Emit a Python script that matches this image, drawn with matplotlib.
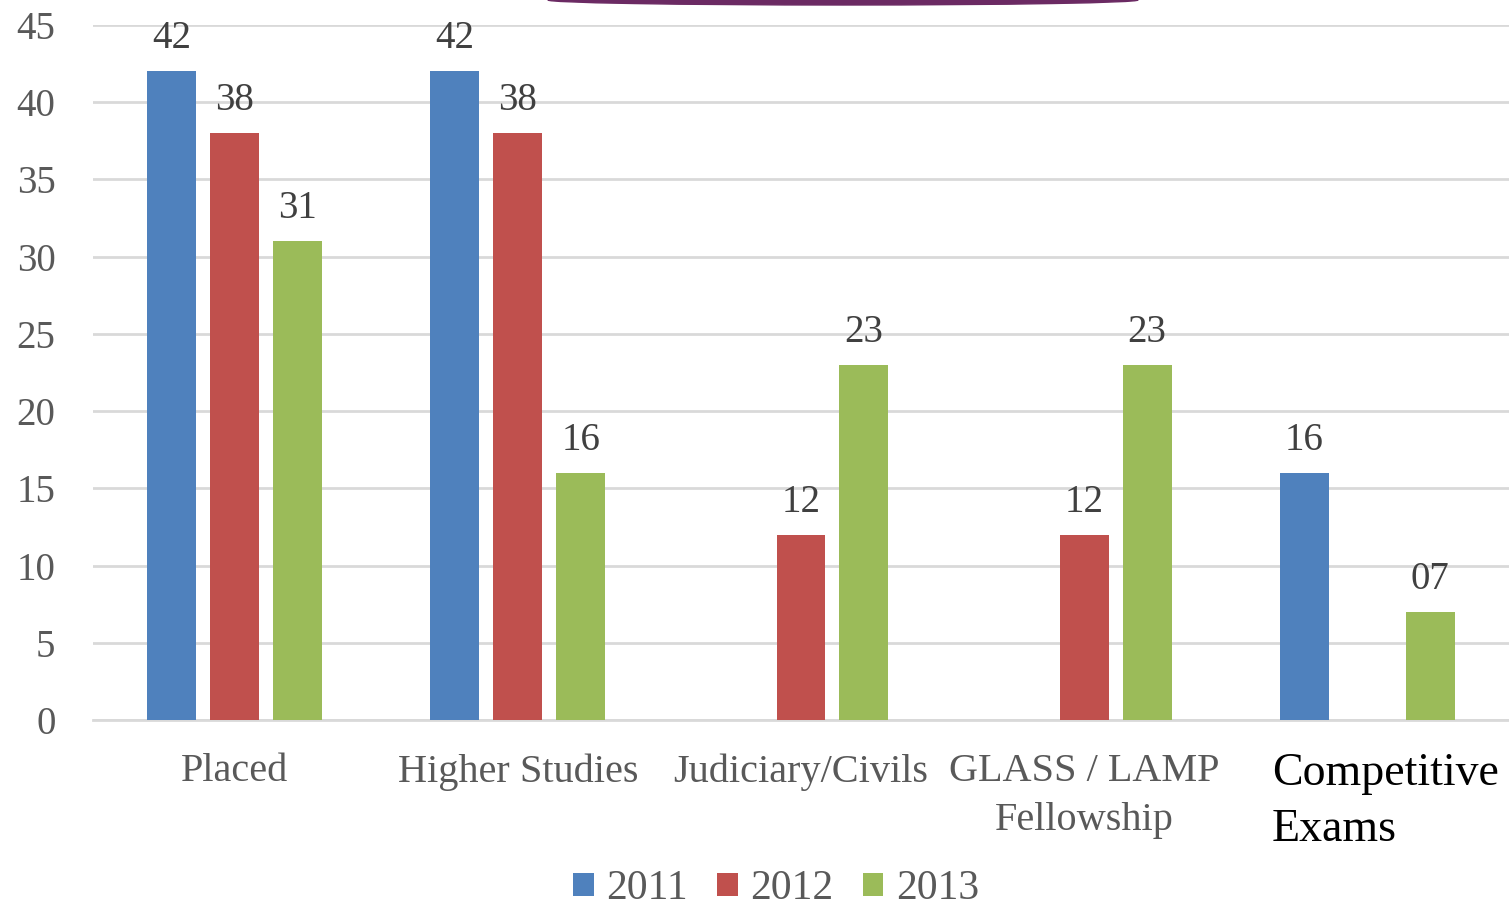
import matplotlib
matplotlib.use("Agg")
import matplotlib.pyplot as plt
import numpy as np
from matplotlib.patches import Ellipse, Patch

categories = ["Placed", "Higher Studies", "Judiciary/Civils", "GLASS / LAMP\nFellowship", "Competitive\nExams"]
years = ["2011", "2012", "2013"]
v2011 = [42, 42, None, None, 16]
v2012 = [38, 38, 12, 12, None]
v2013 = [31, 16, 23, 23, 7]
labels2011 = ["42", "42", "", "", "16"]
labels2012 = ["38", "38", "12", "12", ""]
labels2013 = ["31", "16", "23", "23", "07"]
colors = ["#4F81BD", "#C0504D", "#9BBB59"]
yticks = [0, 5, 10, 15, 20, 25, 30, 35, 40, 45]

plt.rcParams['font.family'] = ['Liberation Serif', 'DejaVu Serif']
fig = plt.figure(figsize=(15.09, 9.07), dpi=100)
ax = fig.add_axes([93/1509, 1-720/907, (1509-93)/1509, (720-25)/907])

x = np.arange(len(categories))
step = 0.222
width = 0.173
series = [v2011, v2012, v2013]
labs = [labels2011, labels2012, labels2013]
for i, (vals, lb, c) in enumerate(zip(series, labs, colors)):
    for j, v in enumerate(vals):
        if v is None:
            continue
        xp = x[j] + (i - 1) * step
        ax.bar(xp, v, width=width, color=c, zorder=3)
        ax.annotate(lb[j], (xp, v), xytext=(0, 10), textcoords='offset points',
                    ha='center', va='bottom', fontsize=28, color='#404040')

ax.set_xlim(-0.5, len(categories) - 0.5)
ax.set_ylim(0, 45)
ax.set_yticks(yticks)
ax.set_yticklabels([str(t) for t in yticks], fontsize=28, color='#595959')
ax.yaxis.grid(True, color='#d9d9d9', linewidth=2, zorder=0)
ax.tick_params(axis='y', length=0, pad=27)
ax.tick_params(axis='x', length=0, pad=24)
for s in ['top', 'right', 'left']:
    ax.spines[s].set_visible(False)
ax.spines['bottom'].set_color('#d9d9d9')
ax.spines['bottom'].set_linewidth(2)
ax.set_xticks(x)
ax.set_xticklabels(categories[:4] + [""], fontsize=29, color='#595959', linespacing=1.42)
ax.text((1272 - 93) / 1416, -0.047, categories[4], transform=ax.transAxes, ha='left', va='top',
        fontsize=33, color='black', linespacing=1.4)

handles = [Patch(facecolor=c) for c in colors]
fig.legend(handles, years, loc='center', bbox_to_anchor=(776/1509, 1-889/907), ncol=3,
           frameon=False, fontsize=30, handlelength=0.5, handleheight=0.5,
           handletextpad=0.3, columnspacing=0.7, labelcolor='#595959')

arc = Ellipse((843/1509, 1.0), 590/1509, 10/907, transform=fig.transFigure,
              color='#6B2A63', zorder=10)
fig.patches.append(arc)

fig.savefig("out.png", dpi=100)
